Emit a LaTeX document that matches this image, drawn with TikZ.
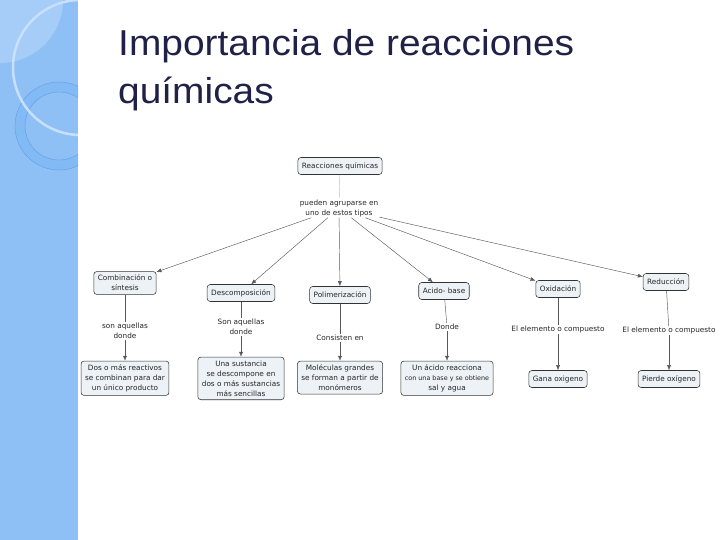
\documentclass[tikz,border=0pt]{standalone}
\usepackage{fontspec}
\setmainfont{Liberation Sans}
\newfontfamily\titlefont[FakeStretch=1.08]{Liberation Sans}
\newfontfamily\mapfont{DejaVu Sans}
\usepackage{tikz}
\usetikzlibrary{arrows.meta, positioning}

\definecolor{stripeblue}{RGB}{143,192,245}
\definecolor{stripelight}{RGB}{166,205,248}
\definecolor{ringblue}{RGB}{130,186,245}
\definecolor{ringline}{RGB}{100,156,228}
\definecolor{arcwhite}{RGB}{200,224,251}
\definecolor{titlenavy}{RGB}{31,33,70}
\definecolor{boxfill}{RGB}{236,242,245}

\begin{document}
\begin{tikzpicture}[
    x=1pt, y=-1pt,
    conceptbox/.style={
        rectangle,
        rounded corners=3pt,
        draw=black!80,
        fill=boxfill,
        line width=0.55pt,
        align=center,
        inner xsep=4pt,
        inner ysep=3.5pt,
        minimum height=17pt,
        font=\mapfont\fontsize{7.3}{10}\selectfont,
        text=black!85
    },
    linklabel/.style={
        fill=white,
        inner sep=1pt,
        align=center,
        font=\mapfont\fontsize{7.3}{10}\selectfont,
        text=black!85
    },
    link/.style={
        draw=black!65,
        line width=0.45pt
    },
    linkarrow/.style={
        link,
        -{Latex[length=5pt, width=4pt]}
    },
    toplink/.style={
        draw=black!25,
        line width=0.45pt
    }
]
\useasboundingbox (0,0) rectangle (720,540);

% Side stripe
\fill[stripeblue] (0,0) rectangle (78,540);
\begin{scope}
    \clip (0,0) rectangle (78,540);
    \fill[stripelight] (0,0) circle[radius=63];
    \fill[ringblue, even odd rule] (59,126) circle[radius=44] (59,126) circle[radius=34];
    \draw[ringline, line width=0.4pt] (59,126) circle[radius=44] (59,126) circle[radius=34];
    \draw[arcwhite, line width=2.5pt] (80.5,67.5) circle[radius=67.5];
\end{scope}

% Title
\node[anchor=north west, inner sep=0pt, align=left, font=\titlefont\fontsize{36}{48}\selectfont, text=titlenavy] (title) at (118,29) {Importancia de reacciones\\químicas};

% Root
\node[conceptbox] (reac) at (340,166) {Reacciones químicas};
\node[linklabel] (tipos) at (339,208) {pueden agruparse en\\uno de estos tipos};

% Reaction types
\node[conceptbox] (comb) at (125,283) {Combinación o\\síntesis};
\node[conceptbox] (desc) at (241,293) {Descomposición};
\node[conceptbox] (poli) at (340,295) {Polimerización};
\node[conceptbox] (acido) at (444,291) {Acido- base};
\node[conceptbox] (oxid) at (558,289) {Oxidación};
\node[conceptbox] (redu) at (666,282) {Reducción};

% Link labels
\node[linklabel, below=27pt of comb] (combl) {son aquellas\\donde};
\node[linklabel, below=16pt of desc] (descl) {Son aquellas\\donde};
\node[linklabel, below=30pt of poli] (polil) {Consisten en};
\node[linklabel, below=23pt of acido, xshift=3pt] (acidol) {Donde};
\node[linklabel, below=27pt of oxid] (oxidl) {El elemento o compuesto};
\node[linklabel, below=35pt of redu, xshift=3pt] (redul) {El elemento o compuesto};

% Descriptions
\node[conceptbox, below=21pt of combl] (combd) {Dos o más reactivos\\se combinan para dar\\un único producto};
\node[conceptbox, below=21pt of descl] (descd) {Una sustancia\\se descompone en\\dos o más sustancias\\más sencillas};
\node[conceptbox, below=19pt of polil] (polid) {Moléculas grandes\\se forman a partir de\\monómeros};
\node[conceptbox, below=30pt of acidol] (acidod) {Un ácido reacciona\\{\fontsize{6.4}{10}\selectfont con una base y se obtiene}\\sal y agua};
\node[conceptbox, below=36pt of oxidl] (oxidd) {Gana oxigeno};
\node[conceptbox, below=35pt of redul] (redud) {Pierde oxígeno};

% Root arrows
\draw[toplink] (reac) -- (tipos);
\draw[linkarrow] (tipos) -- (comb);
\draw[linkarrow] (tipos) -- (desc);
\draw[linkarrow] (tipos) -- (poli);
\draw[linkarrow] (tipos) -- (acido);
\draw[linkarrow] (tipos) -- (oxid);
\draw[linkarrow] (tipos) -- (redu);

% Column links
\draw[link] (comb) -- (combl);
\draw[linkarrow] (combl) -- (combd);
\draw[link] (desc) -- (descl);
\draw[linkarrow] (descl) -- (descd);
\draw[link] (poli) -- (polil);
\draw[linkarrow] (polil) -- (polid);
\draw[link] (acido) -- (acidol);
\draw[linkarrow] (acidol) -- (acidod);
\draw[link] (oxid) -- (oxidl);
\draw[linkarrow] (oxidl) -- (oxidd);
\draw[link] (redu) -- (redul);
\draw[linkarrow] (redul) -- (redud);

\end{tikzpicture}
\end{document}
